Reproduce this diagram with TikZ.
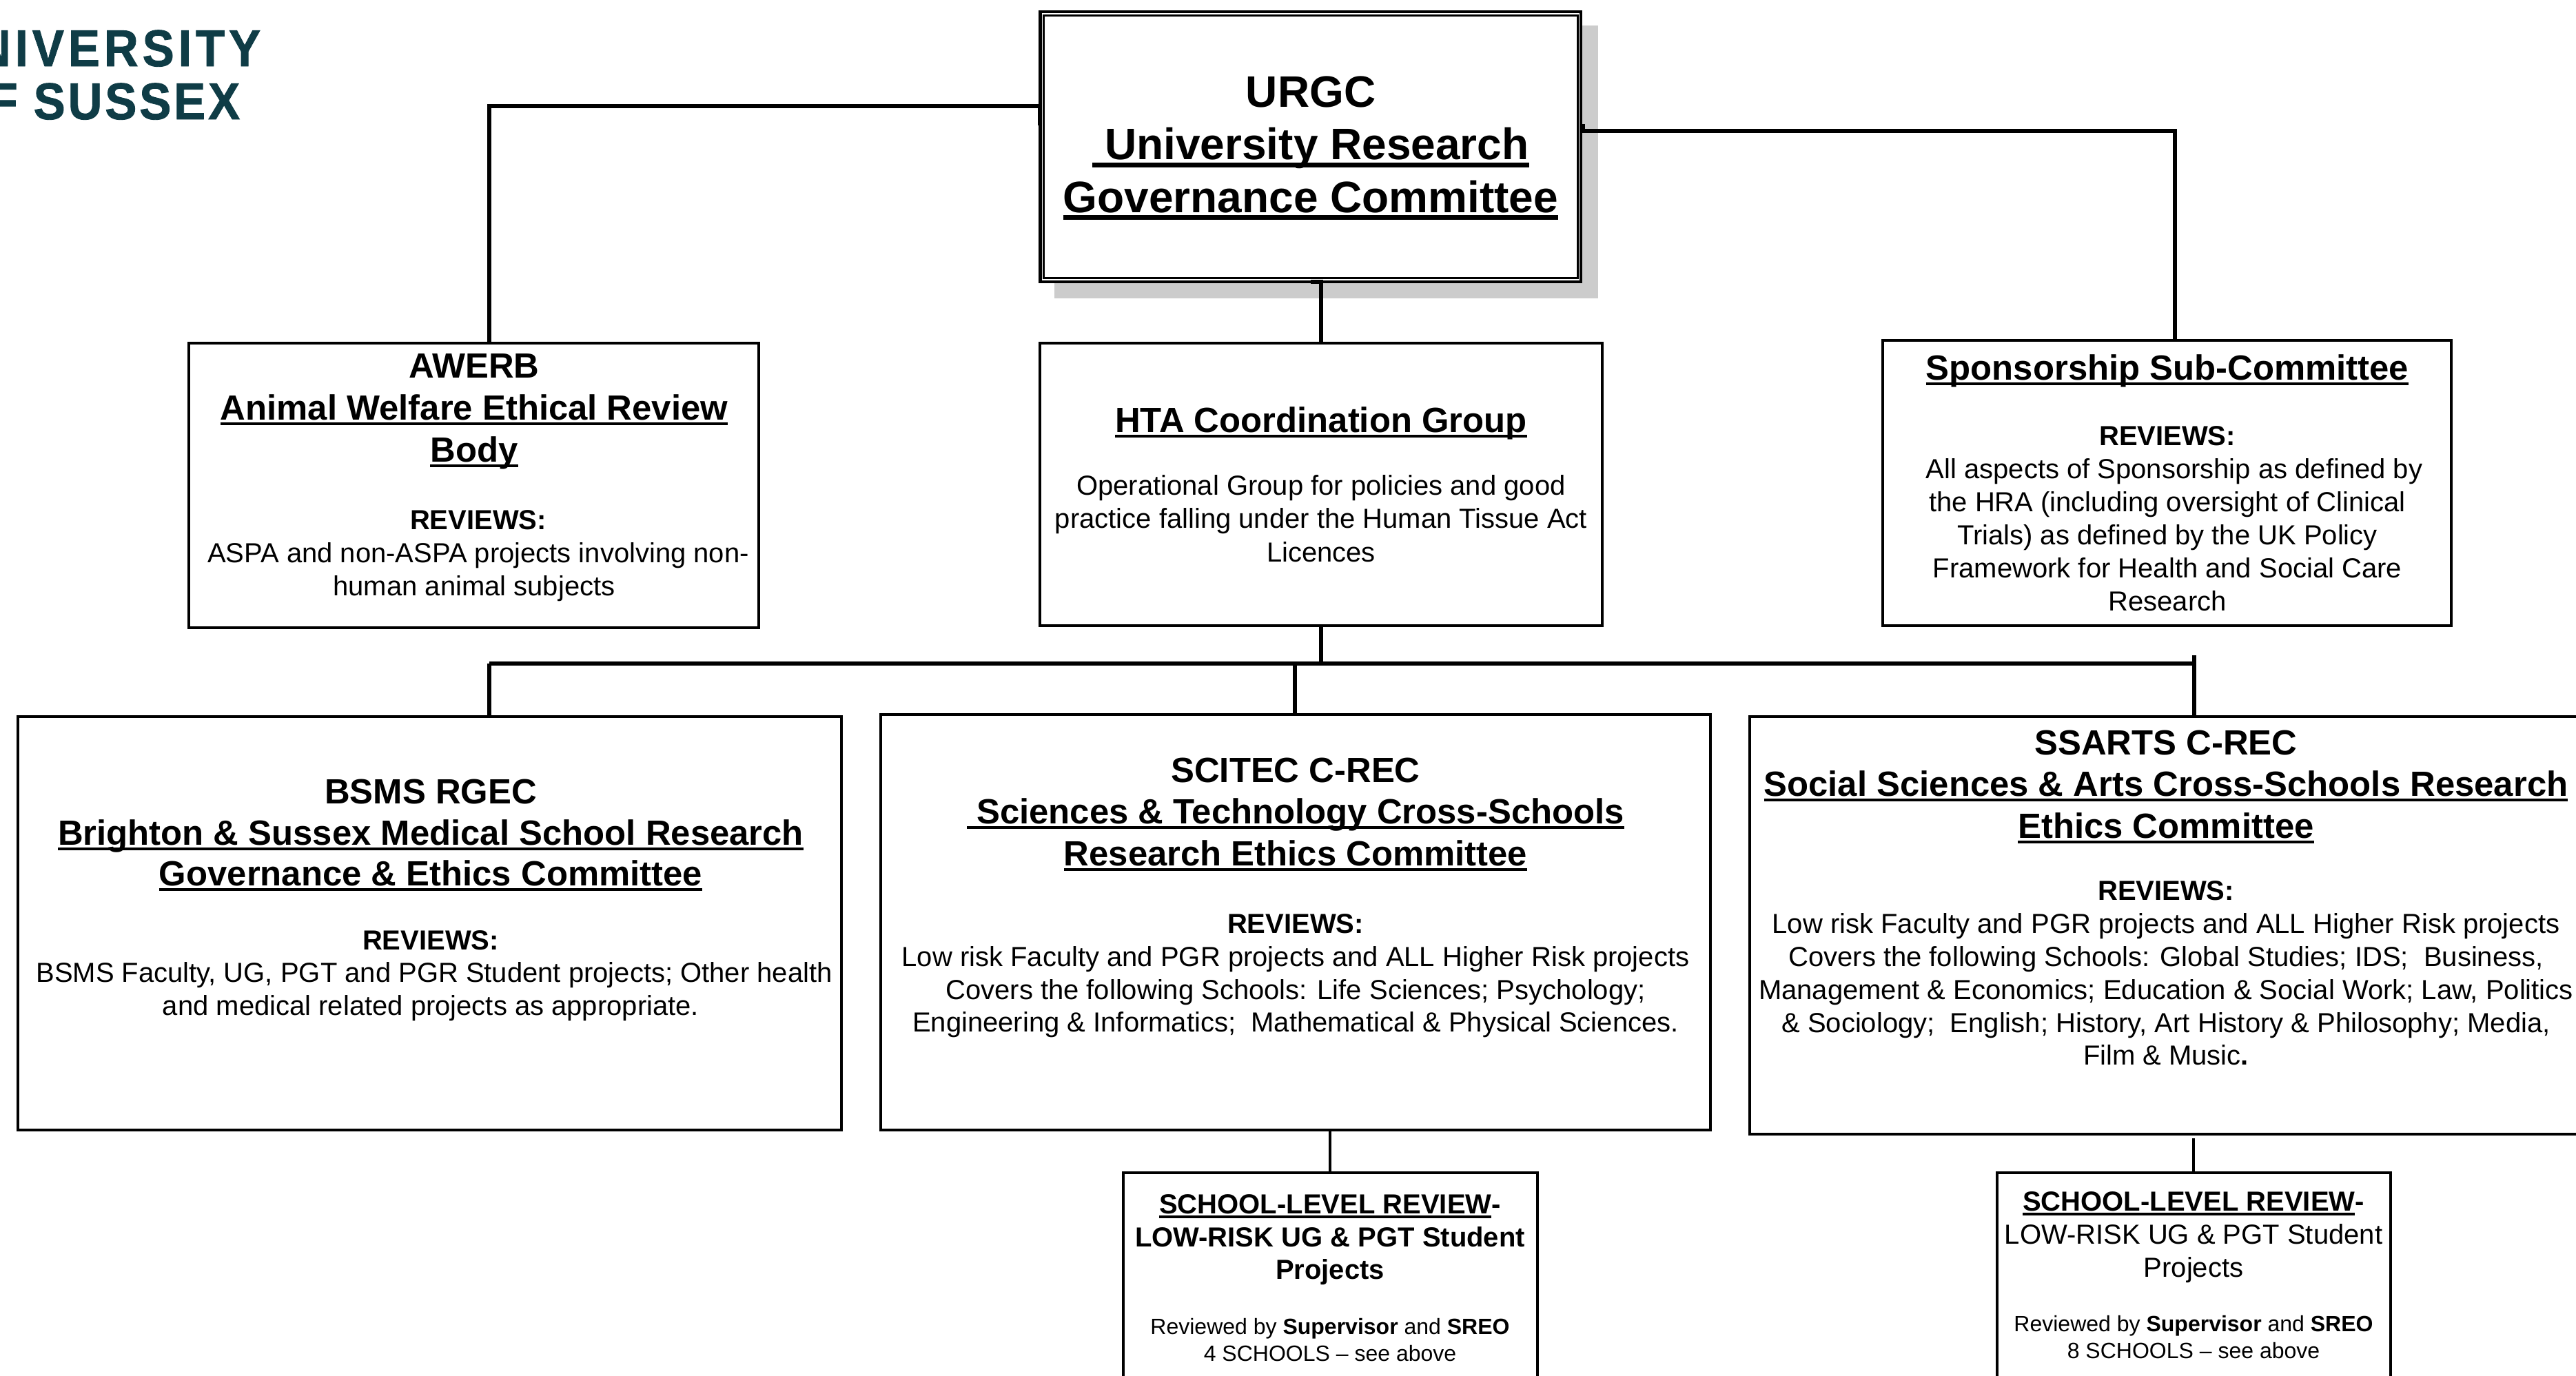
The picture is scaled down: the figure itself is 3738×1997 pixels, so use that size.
\documentclass[tikz,border=0pt]{standalone}
\usepackage{fontspec}
\setmainfont{Liberation Sans}
\newfontfamily\logofonta[FakeStretch=0.92,LetterSpace=8,BoldFeatures={FakeBold=1.2}]{Liberation Sans}
\newfontfamily\logofontb[FakeStretch=0.92,LetterSpace=5.2,BoldFeatures={FakeBold=1.2}]{Liberation Sans}
\definecolor{logoteal}{HTML}{0F3C46}
\definecolor{shadowgray}{HTML}{CCCCCC}
\newdimen\pxu \pxu=0.24pt
% one centred line: size in pt, distance from previous baseline in px
\newcommand\tl[3]{{\fontsize{#1}{#1}\selectfont\baselineskip=#2\pxu\lineskiplimit=-100pt\relax #3\par}}
\newcommand\ulx[1]{\setbox0=\hbox{#1}\rlap{\rule[-.165em]{\wd0}{.095em}}\box0 }
\newcommand\lead[1]{\hspace*{#1\pxu}}
\newcommand\tA{15.36}
\newcommand\tB{12.2}
\newcommand\tC{9.6}
\newcommand\tD{7.68}
\tikzset{
  boxs/.style={draw=black,line width=3.2*0.24pt,inner sep=0pt,outer sep=0pt,rectangle},
  link/.style={draw=black,line width=5.5*0.24pt,line join=miter},
  thin link/.style={draw=black,line width=4.5*0.24pt},
  txt/.style={anchor=base,inner sep=0pt,outer sep=0pt,text width=#1*0.24pt,align=flush center,text=black},
  logotxt/.style={anchor=base east,inner sep=0pt,text=logoteal},
}
\newcommand\bx[6][boxs]{\node[#1,minimum width={(#5-#3)*0.24pt},minimum height={(#6-#4)*0.24pt}] (#2) at ({(#3+#5)/2},{(#4+#6)/2}) {};}
\begin{document}
\begin{tikzpicture}[x=0.24pt,y=-0.24pt]
\useasboundingbox (0,0) rectangle (3738,1997);
\clip (0,0) rectangle (3738,1997);
% logo
\node[logotxt,font={\fontsize{18}{18}\selectfont\logofonta\bfseries}] (logoa) at (379,96) {UNIVERSITY};
\node[logotxt,font={\fontsize{18}{18}\selectfont\logofontb\bfseries}] (logob) at (349,173) {OF SUSSEX};
% shadow + URGC
\bx[fill=shadowgray,inner sep=0pt,outer sep=0pt,rectangle]{urgcshadow}{1530}{37}{2319}{433}
\bx[boxs,fill=white,line width=4.5*0.24pt]{urgc}{1509.6}{17}{2294}{409}
\bx[boxs,line width=3*0.24pt]{urgcin}{1514.5}{22}{2289}{403.5}
% boxes
\bx{awerb}{274}{498}{1101}{911}
\bx{hta}{1509}{498}{2325}{908}
\bx{spons}{2732}{494}{3557}{908}
\bx{bsms}{26}{1040}{1221}{1640}
\bx{scitec}{1278}{1037}{2482}{1640}
\bx{ssarts}{2539}{1040}{3755}{1646}
\bx{schoola}{1630}{1702}{2231}{2100}
\bx{schoolb}{2898}{1702}{3469}{2100}
% free connector ends
\coordinate (ls) at (1509,182);
\coordinate (lc) at (1509,154);
\coordinate (lt) at (710,154);
\coordinate (rs) at (2297,180);
\coordinate (rc) at (2297,190);
\coordinate (rt) at (3156,190);
\coordinate (busl) at (710,963);
\coordinate (busr) at (3184,963);
\coordinate (busm) at (1879,963);
\coordinate (busrtop) at (3184,951);
\coordinate (scitecdrop) at (1930,1640);
\coordinate (ssartsdrop) at (3183,1652);
% connectors
\draw[link] (ls) -- (lc) -- (lt) -- (lt |- awerb.north);
\draw[link] (rs) -- (rc) -- (rt) -- (rt |- spons.north);
\draw[link] (urgc.south) -| (hta.north);
\draw[link] (hta.south) -- (hta.south |- busl);
\draw[link] (busl) -- (busr);
\draw[link] (busl) -- (busl |- bsms.north);
\draw[link] (busm) -- (busm |- scitec.north);
\draw[link] (busrtop) -- (busrtop |- ssarts.north);
\draw[thin link] (scitecdrop) -- (scitecdrop |- schoola.north);
\draw[thin link] (ssartsdrop) -- (ssartsdrop |- schoolb.north);
% texts
\node[txt=780] (urgct) at (1902,155) {%
\tl{\tA}{77}{\textbf{URGC}}%
\tl{\tA}{77}{\textbf{\ulx{\ University Research}}}%
\tl{\tA}{76}{\textbf{\ulx{Governance Committee}}}};
\node[txt=820] (awerbt) at (688,548) {%
\tl{\tB}{61}{\textbf{AWERB}}%
\tl{\tB}{61}{\textbf{\ulx{Animal Welfare Ethical Review}}}%
\tl{\tB}{61}{\textbf{\ulx{Body}}}%
\tl{\tC}{98}{\lead{12}\textbf{REVIEWS:}}%
\tl{\tC}{48}{\lead{12}ASPA and non-ASPA projects involving non-}%
\tl{\tC}{48}{human animal subjects}};
\node[txt=810] (htat) at (1917,627) {%
\tl{\tB}{61}{\textbf{\ulx{HTA Coordination Group}}}%
\tl{\tC}{91}{Operational Group for policies and good}%
\tl{\tC}{48}{practice falling under the Human Tissue Act}%
\tl{\tC}{49}{Licences}};
\node[txt=820] (sponst) at (3145,551) {%
\tl{\tB}{61}{\textbf{\ulx{Sponsorship Sub-Committee}}}%
\tl{\tC}{95}{\textbf{REVIEWS:}}%
\tl{\tC}{48}{\lead{20}All aspects of Sponsorship as defined by}%
\tl{\tC}{48}{the HRA (including oversight of Clinical}%
\tl{\tC}{48}{Trials) as defined by the UK Policy}%
\tl{\tC}{48}{Framework for Health and Social Care}%
\tl{\tC}{48}{Research}};
\node[txt=1190] (bsmst) at (625,1166) {%
\tl{\tB}{61}{\textbf{BSMS RGEC}}%
\tl{\tB}{60}{\textbf{\ulx{Brighton \& Sussex Medical School Research}}}%
\tl{\tB}{59}{\textbf{\ulx{Governance \& Ethics Committee}}}%
\tl{\tC}{93}{\textbf{REVIEWS:}}%
\tl{\tC}{47}{\lead{10}BSMS Faculty, UG, PGT and PGR Student projects; Other health}%
\tl{\tC}{48}{and medical related projects as appropriate.}};
\node[txt=1190] (scitect) at (1880,1135) {%
\tl{\tB}{61}{\textbf{SCITEC C-REC}}%
\tl{\tB}{60}{\textbf{\ulx{\ Sciences \& Technology Cross-Schools}}}%
\tl{\tB}{61}{\textbf{\ulx{Research Ethics Committee}}}%
\tl{\tC}{98}{\textbf{REVIEWS:}}%
\tl{\tC}{48}{Low risk Faculty and PGR projects and ALL Higher Risk projects}%
\tl{\tC}{48}{Covers the following Schools: Life Sciences; Psychology;}%
\tl{\tC}{47}{Engineering \& Informatics;\ \ Mathematical \& Physical Sciences.}};
\node[txt=1210] (ssartst) at (3143,1095) {%
\tl{\tB}{61}{\textbf{SSARTS C-REC}}%
\tl{\tB}{60}{\textbf{\ulx{Social Sciences \& Arts Cross-Schools Research}}}%
\tl{\tB}{61}{\textbf{\ulx{Ethics Committee}}}%
\tl{\tC}{90}{\textbf{REVIEWS:}}%
\tl{\tC}{48}{Low risk Faculty and PGR projects and ALL Higher Risk projects}%
\tl{\tC}{48}{Covers the following Schools: Global Studies; IDS;\ \ Business,}%
\tl{\tC}{48}{Management \& Economics; Education \& Social Work; Law, Politics}%
\tl{\tC}{48}{\& Sociology;\ \ English; History, Art History \& Philosophy; Media,}%
\tl{\tC}{47}{Film \& Music\textbf{.}}};
\node[txt=590] (schoolat) at (1930,1761) {%
\tl{\tC}{48}{\textbf{\ulx{SCHOOL-LEVEL REVIEW}-}}%
\tl{\tC}{48}{\textbf{LOW-RISK UG \& PGT Student}}%
\tl{\tC}{47}{\textbf{Projects}}%
\tl{\tD}{80}{Reviewed by \textbf{Supervisor} and \textbf{SREO}}%
\tl{\tD}{39}{4 SCHOOLS – see above}};
\node[txt=560] (schoolbt) at (3183,1757) {%
\tl{\tC}{48}{\textbf{\ulx{SCHOOL-LEVEL REVIEW}-}}%
\tl{\tC}{48}{LOW-RISK UG \& PGT Student}%
\tl{\tC}{48}{Projects}%
\tl{\tD}{79}{Reviewed by \textbf{Supervisor} and \textbf{SREO}}%
\tl{\tD}{39}{8 SCHOOLS – see above}};
\end{tikzpicture}
\end{document}
